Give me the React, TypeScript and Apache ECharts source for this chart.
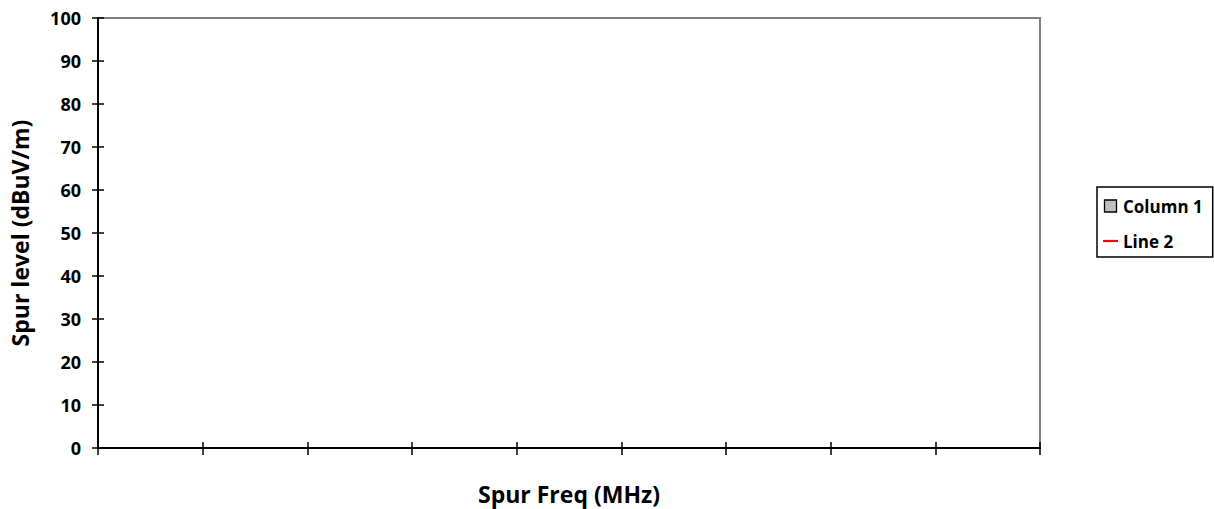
import React, { useEffect, useRef } from "react";
import * as echarts from "echarts";

const categories: string[] = ["", "", "", "", "", "", "", "", ""];
const column1Values: (number | null)[] = [];
const line2Values: (number | null)[] = [];
const yMin = 0;
const yMax = 100;
const yStep = 10;
const xTitle = "Spur Freq (MHz)";
const yTitle = "Spur level (dBuV/m)";
const seriesNames = ["Column 1", "Line 2"];

const FONT = "'Open Sans', 'Noto Sans', sans-serif";

export default function App() {
  const ref = useRef<HTMLDivElement>(null);
  useEffect(() => {
    if (!ref.current) return;
    const chart = echarts.init(ref.current, null, { renderer: "svg" });
    const grid = {
      left: 98,
      right: 174,
      top: 18,
      bottom: 61,
      show: true,
      borderColor: "#808080",
      borderWidth: 2,
      backgroundColor: "#fff",
      outerBoundsMode: "none",
      containLabel: false,
    };
    const axisLine = { show: true, lineStyle: { color: "#000", width: 2 } };
    const tickStyle = { color: "#000", width: 1.5 };
    chart.setOption({
      animation: false,
      backgroundColor: "#fff",
      grid,
      textStyle: { fontFamily: FONT },
      legend: {
        orient: "vertical",
        left: 1097,
        top: 187,
        padding: [9, 10, 6, 6],
        borderColor: "#000",
        borderWidth: 1.5,
        itemGap: 15,
        itemWidth: 15,
        itemHeight: 12,
        symbolKeepAspect: true,
        textStyle: { fontFamily: FONT, fontWeight: "bold", fontSize: 17, lineHeight: 20, color: "#000" },
        data: [
          {
            name: seriesNames[0],
            icon: "path://M0,0 L12,0 L12,12 L0,12 Z",
            itemStyle: { color: "#c0c0c0", borderColor: "#000", borderWidth: 1.3 },
          },
          { name: seriesNames[1], icon: "path://M0,0 L15,0 L15,2.2 L0,2.2 Z", itemStyle: { color: "#ff0000", borderWidth: 0 } },
        ],
      },
      xAxis: [
        {
          type: "category",
          data: categories,
          boundaryGap: true,
          axisLine,
          axisTick: { show: true, interval: 0, length: 7, lineStyle: tickStyle },
          axisLabel: { show: false },
          name: xTitle,
          nameLocation: "middle",
          nameGap: 34,
          nameTextStyle: { fontFamily: FONT, fontWeight: "bold", fontSize: 23, color: "#000" },
          splitLine: { show: false },
        },
        {
          type: "category",
          data: categories,
          boundaryGap: true,
          position: "bottom",
          axisLine: { show: false },
          axisTick: { show: true, inside: true, interval: 0, length: 6, lineStyle: tickStyle },
          axisLabel: { show: false },
          splitLine: { show: false },
        },
      ],
      yAxis: [
        {
          type: "value",
          min: yMin,
          max: yMax,
          interval: yStep,
          axisLine,
          axisTick: { show: true, length: 6, lineStyle: tickStyle },
          axisLabel: { fontFamily: FONT, fontWeight: "bold", fontSize: 18, color: "#000", margin: 17 },
          splitLine: { show: false },
          name: yTitle,
          nameLocation: "middle",
          nameGap: 67,
          nameTextStyle: { fontFamily: FONT, fontWeight: "bold", fontSize: 23, color: "#000" },
        },
        {
          type: "value",
          min: yMin,
          max: yMax,
          interval: yStep,
          position: "left",
          axisLine: { show: false },
          axisTick: { show: true, inside: true, length: 6, lineStyle: tickStyle },
          axisLabel: { show: false },
          splitLine: { show: false },
        },
      ],
      series: [
        { name: seriesNames[0], type: "bar", data: column1Values, itemStyle: { color: "#c0c0c0", borderColor: "#000" } },
        {
          name: seriesNames[1],
          type: "line",
          data: line2Values,
          symbol: "none",
          lineStyle: { color: "#ff0000" },
          itemStyle: { color: "#ff0000" },
        },
      ],
    });
    return () => chart.dispose();
  }, []);
  return <div ref={ref} style={{ position: "absolute", left: 0, top: 0, width: 1214, height: 509 }} />;
}
